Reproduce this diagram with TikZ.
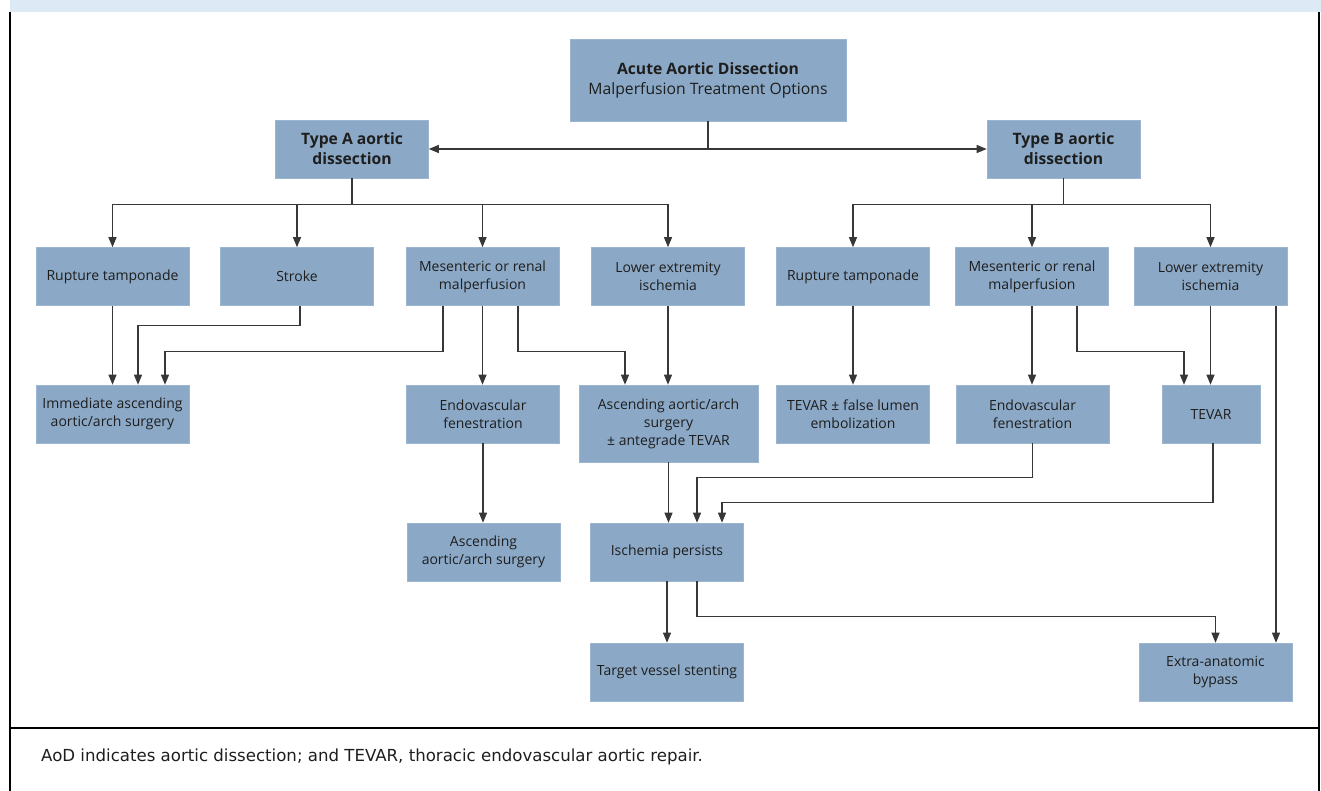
\documentclass[tikz,border=0pt]{standalone}
\usepackage{fontspec}
\setmainfont{Open Sans}
\newfontfamily\notefont{DejaVu Sans}
\usepackage{tikz}
\usetikzlibrary{arrows.meta,positioning,calc}
\definecolor{boxblue}{RGB}{139,169,198}
\definecolor{bandblue}{RGB}{221,233,245}
\definecolor{linegray}{RGB}{55,55,55}
\definecolor{textdark}{RGB}{30,30,30}

\begin{document}
\begin{tikzpicture}[x=1pt,y=-1pt]

    \tikzstyle{box}=[rectangle,fill=boxblue,draw=boxblue!85!white,line width=0.6pt,
                     minimum width=153pt,minimum height=58pt,inner sep=2pt,align=center,
                     text=textdark,font=\fontsize{14}{18}\selectfont]
    \tikzstyle{headbox}=[box,font=\fontsize{15.7}{20}\selectfont]
    \tikzstyle{link}=[draw=linegray,line width=1.1pt,-{Triangle[length=10pt,width=8pt]}]
    \tikzstyle{plain}=[draw=linegray,line width=1.1pt]

    \useasboundingbox (0,0) rectangle (1321,791);

    % frame
    \fill[bandblue] (10,0) rectangle (1321,12);
    \draw[line width=2pt] (9.5,12) -- (9.5,791);
    \draw[line width=2pt] (1318.5,12) -- (1318.5,791);
    \draw[line width=2pt] (9.5,728) -- (1318.5,728);

    % boxes
    \node[headbox, minimum width=276pt, minimum height=82pt] (T0) at (708,80)
         {\textbf{Acute Aortic Dissection}\\Malperfusion Treatment Options};
    \node[headbox] (TA) at (352,149) {\textbf{Type A aortic}\\\textbf{dissection}};
    \node[headbox] (TB) at (1063.5,149) {\textbf{Type B aortic}\\\textbf{dissection}};

    \node[box] (A1) at (112.5,276.5) {Rupture tamponade};
    \node[box] (A2) at (297,276.5) {Stroke};
    \node[box] (A3) at (482.5,276.5) {Mesenteric or renal\\malperfusion};
    \node[box] (A4) at (668,276.5) {Lower extremity\\ischemia};
    \node[box] (B1) at (853,276.5) {Rupture tamponade};
    \node[box] (B2) at (1032,276.5) {Mesenteric or renal\\malperfusion};
    \node[box] (B3) at (1210.5,276.5) {Lower extremity\\ischemia};

    \node[box] (A5) at (112.5,414) {Immediate ascending\\aortic/arch surgery};
    \node[box] (A6) at (483,414) {Endovascular\\fenestration};
    \node[box, minimum width=179pt, minimum height=77pt] (A7) at (668.5,423.5)
         {Ascending aortic/arch\\surgery\\± antegrade TEVAR};
    \node[box] (B4) at (853,414) {TEVAR ± false lumen\\embolization};
    \node[box] (B5) at (1032.5,414) {Endovascular\\fenestration};
    \node[box, minimum width=98pt] (B6) at (1211,414) {TEVAR};

    \node[box] (A8) at (483.5,552) {Ascending\\aortic/arch surgery};
    \node[box] (C1) at (667,552) {Ischemia persists};

    \node[box] (C2) at (667,672) {Target vessel stenting};
    \node[box] (C3) at (1215.5,672) {Extra-anatomic\\bypass};

    % top level
    \draw[plain,{Triangle[length=10pt,width=8pt]}-{Triangle[length=10pt,width=8pt]}] (TA.east) -- (TB.west);
    \draw[plain] (T0.south) -- (T0.south |- TA.east);

    % type A branches
    \draw[link] (TA.south) -- ++(0,26) -| (A1.north);
    \draw[link] (TA.south) -- ++(0,26) -| (A2.north);
    \draw[link] (TA.south) -- ++(0,26) -| (A3.north);
    \draw[link] (TA.south) -- ++(0,26) -| (A4.north);

    % type B branches
    \draw[link] (TB.south) -- ++(0,26) -| (B1.north);
    \draw[link] (TB.south) -- ++(0,26) -| (B2.north);
    \draw[link] (TB.south) -- ++(0,26) -| (B3.north);

    \draw[link] (A1.south) -- (A5.north);
    \draw[link] ([xshift=3pt]A2.south) -- ++(0,20) -| ([xshift=25.5pt]A5.north);
    \draw[link] ([xshift=-39.5pt]A3.south) -- ++(0,46) -| ([xshift=52.5pt]A5.north);
    \draw[link] (A3.south) -- (A3.south |- A6.north);
    \draw[link] ([xshift=35.5pt]A3.south) -- ++(0,46) -| ([xshift=-43.5pt]A7.north);
    \draw[link] (A4.south) -- (A4.south |- A7.north);
    \draw[link] (A6.south) -- (A6.south |- A8.north);
    \draw[link] (A7.south) -- (A7.south |- C1.north);

    \draw[link] (B1.south) -- (B4.north);
    \draw[link] (B2.south) -- (B2.south |- B5.north);
    \draw[link] ([xshift=45pt]B2.south) -- ++(0,46) -| ([xshift=-27pt]B6.north);
    \draw[link] (B3.south) -- (B3.south |- B6.north);
    \draw[link] ([xshift=65.5pt]B3.south) -- ([xshift=65.5pt]B3.south |- C3.north);
    \draw[link] (B5.south) -- ++(0,34) -| ([xshift=30pt]C1.north);
    \draw[link] ([xshift=2pt]B6.south) -- ++(0,59) -| ([xshift=55pt]C1.north);

    \draw[link] (C1.south) -- (C2.north);
    \draw[link] ([xshift=30pt]C1.south) -- ++(0,35) -| (C3.north);

    % footnote
    \node[anchor=west, inner sep=0pt, text=textdark, font=\notefont\fontsize{16.6}{20}\selectfont] (N1) at (41,757)
         {AoD indicates aortic dissection; and TEVAR, thoracic endovascular aortic repair.};

\end{tikzpicture}
\end{document}
